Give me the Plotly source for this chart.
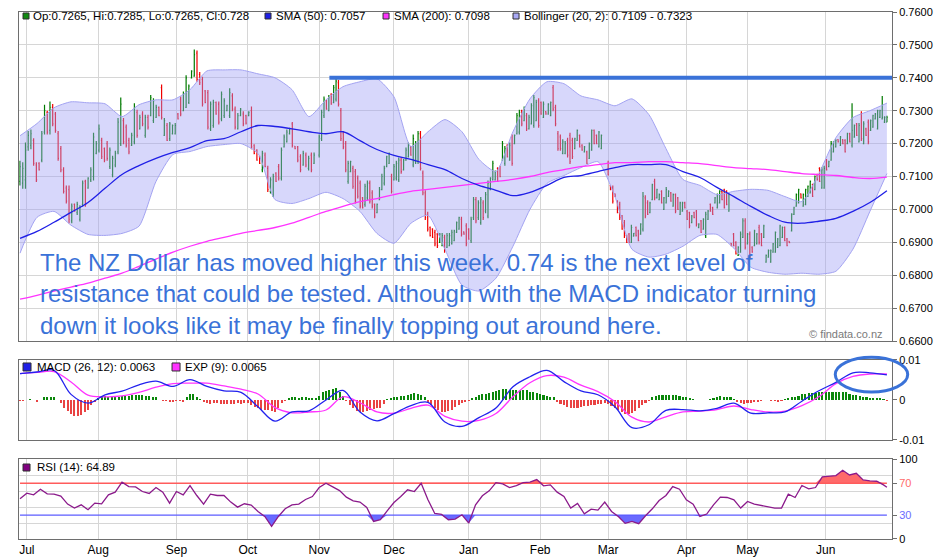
import numpy as np
import plotly.graph_objects as go

# ---------------- data ----------------
months = ["Jul", "Aug", "Sep", "Oct", "Nov", "Dec", "Jan", "Feb", "Mar", "Apr", "May", "Jun"]
month_start_bar = [2, 23, 46, 67, 88, 110, 132, 153, 173, 196, 214, 237]
n_bars = 256

# OHLC in pips (price * 10000), read in three segments of the chart
opens1 = [7085,7080,7090,7190,7195,7210,7135,7140,7150,7235,7295,7240,7310,7290,7230,7185,7120,7065,7060,6965,7015,6990,6970,7015,7085,7065,7090,7100,7170,7180,7210,7185,7200,7130,7105,7135,7175,7200,7270,7250,7210,7195,7205,7295,7245,7290,7225,7280,7285,7270,7280,7310,7370,7225,7255,7215,7230,7230,7290,7335,7300,7310,7325,7400,7405,7475,7410,7395,7360,7355,7245,7255,7325,7320,7275,7285,7300,7285,7345,7305,7245,7285,7290,7285,7285,7300,7195,7180,7160,7120,7165,7125,7055,7045,7110,7130,7095,7190,7205,7230,7260,7192,7190,7160,7135,7165,7125,7165,7140]
highs1 = [7148,7143,7203,7238,7243,7216,7143,7143,7238,7318,7300,7328,7320,7296,7238,7193,7128,7073,7073,7018,7018,7023,7013,7088,7090,7098,7128,7233,7208,7258,7218,7188,7208,7188,7163,7178,7278,7340,7278,7258,7218,7233,7323,7303,7288,7298,7288,7288,7348,7338,7318,7313,7380,7278,7263,7266,7258,7263,7293,7343,7358,7408,7380,7423,7486,7483,7418,7403,7363,7363,7328,7333,7328,7328,7358,7338,7318,7368,7353,7313,7293,7308,7298,7288,7298,7313,7198,7183,7163,7178,7173,7133,7098,7108,7113,7138,7188,7228,7243,7248,7266,7193,7193,7168,7178,7173,7163,7173,7173]
lows1 = [7073,7063,7063,7178,7183,7133,7083,7118,7143,7228,7228,7228,7253,7233,7148,7113,7048,7018,6958,6958,6993,6983,6963,7008,7008,7063,7083,7088,7168,7173,7153,7143,7148,7123,7098,7128,7168,7193,7198,7188,7168,7193,7198,7218,7243,7253,7218,7243,7283,7263,7278,7283,7273,7223,7208,7208,7228,7228,7273,7283,7298,7308,7320,7398,7403,7388,7378,7313,7323,7243,7238,7248,7288,7258,7268,7278,7298,7278,7298,7243,7243,7283,7253,7258,7283,7183,7168,7148,7138,7113,7128,7053,7048,7038,7083,7088,7088,7188,7203,7228,7188,7183,7143,7113,7133,7128,7118,7113,7138]
closes1 = [7130,7125,7180,7225,7230,7140,7090,7120,7230,7300,7235,7310,7260,7240,7155,7120,7055,7025,6970,7010,6995,7015,7005,7080,7015,7095,7120,7220,7200,7245,7160,7150,7155,7180,7155,7170,7265,7320,7205,7195,7175,7225,7310,7225,7280,7260,7280,7250,7340,7330,7310,7285,7280,7270,7210,7260,7255,7255,7275,7290,7350,7400,7375,7420,7470,7395,7385,7320,7325,7250,7320,7325,7290,7265,7350,7330,7315,7355,7305,7250,7285,7305,7260,7262,7295,7190,7170,7150,7140,7170,7130,7060,7090,7100,7085,7095,7180,7220,7235,7245,7195,7185,7150,7120,7170,7135,7155,7120,7165]

opens2 = [7165,7215,7285,7330,7300,7350,7325,7335,7385,7300,7230,7200,7085,7115,7125,7115,7095,7080,7035,7015,7035,7080,7050,7015,6990,7030,7060,7080,7130,7140,7100,7090,7095,7090,7150,7120,7150,7160,7190,7135,7145,7145,7230,7110,7050,6985,6945,6940,6930,6925,6900,6890,6915,6885,6890,6895,6905,6930,6940,6970,6932,6950,6940,6905,6975,7030,6975,6960,7020,6995,6980,7060,7090,7090,7125,7130,7150,7140,7195,7150,7220,7200,7230,7235,7300,7270,7285,7245,7260,7255,7270,7330,7325,7280,7297,7290,7285,7370,7310,7230,7220,7170,7170,7210,7225,7210,7185,7210,7225,7195,7175,7175,7155,7180,7240,7225,7190,7185]
highs2 = [7228,7303,7343,7333,7348,7353,7378,7403,7393,7308,7238,7208,7148,7148,7133,7123,7103,7088,7038,7078,7088,7088,7058,7018,7018,7068,7108,7133,7163,7173,7108,7138,7148,7158,7158,7153,7188,7203,7193,7228,7208,7238,7238,7118,7058,6993,6948,6943,6938,6928,6928,6928,6923,6928,6928,6938,6938,6963,6978,6978,6933,6958,6943,6978,7038,7038,7028,7038,7028,7053,7088,7098,7148,7118,7128,7133,7208,7193,7198,7203,7228,7228,7293,7303,7303,7313,7293,7288,7323,7348,7333,7338,7328,7328,7298,7323,7328,7378,7318,7238,7228,7213,7208,7218,7233,7218,7218,7243,7228,7198,7193,7178,7203,7243,7243,7228,7238,7228]
lows2 = [7158,7208,7278,7303,7298,7318,7323,7328,7313,7208,7183,7113,7078,7113,7063,7018,7033,7003,7003,7008,7028,7018,7003,6973,6988,7028,7058,7073,7128,7138,7048,7088,7088,7083,7108,7118,7148,7158,7163,7128,7138,7138,7118,7043,6968,6933,6918,6913,6888,6883,6898,6888,6868,6883,6888,6893,6903,6928,6938,6918,6923,6888,6908,6898,6968,6958,6968,6953,6968,6988,6973,7058,7088,7088,7083,7098,7148,7133,7158,7148,7133,7198,7228,7228,7253,7268,7238,7243,7258,7248,7268,7248,7288,7278,7288,7288,7283,7298,7253,7178,7178,7168,7168,7158,7138,7153,7183,7208,7188,7178,7173,7138,7153,7178,7198,7198,7188,7183]
closes2 = [7220,7295,7335,7305,7340,7320,7370,7390,7320,7215,7190,7120,7140,7145,7070,7025,7040,7010,7005,7070,7080,7025,7010,6980,7015,7060,7100,7125,7160,7170,7055,7130,7140,7150,7115,7150,7180,7195,7165,7215,7200,7230,7125,7050,6975,6940,6920,6915,6895,6890,6925,6920,6875,6920,6920,6930,6935,6960,6975,6925,6925,6895,6910,6970,7030,6965,7020,7030,6975,7045,7080,7095,7140,7115,7085,7100,7200,7185,7160,7195,7140,7225,7285,7295,7260,7305,7245,7280,7315,7340,7325,7255,7290,7320,7290,7320,7325,7305,7260,7185,7185,7205,7200,7165,7145,7160,7215,7240,7190,7180,7190,7140,7200,7240,7200,7200,7235,7225]

opens3 = [7140,7072,7065,7047,7025,7015,6980,6960,6920,6925,6900,6919,6945,6935,6925,6940,7035,7020,6990,7030,7085,7035,7030,7055,7000,7020,7040,7050,7010,7045,7035,6985,6995,7020,6995,6990,6960,6990,6995,6945,6965,6940,6920,6970,7015,7005,7020,7005,7020,7055,7060,7055,6995,6897,6925,6900,6860,6870,6915,6965,6895,6925,6885,6890,6895,6945,6925,6915,6840,6855,6840,6870,6870,6885,6890,6915,6945,6910,6903,6935,6985,7010,7020,7047,7010,7015,7040,7050,7075,7060,7105,7125,7065,7065,7150,7130,7150,7175,7190,7212,7195,7212,7210,7200,7230,7195,7220,7260,7205,7290,7200,7245,7265,7240,7250,7275,7245,7280,7275,7265,7265]
highs3 = [7148,7073,7073,7048,7028,7023,6983,6968,6923,6928,6953,6928,6948,6938,6958,7053,7043,7028,7023,7078,7093,7063,7048,7058,7038,7068,7058,7053,7048,7048,7038,7023,7023,7023,6998,6993,6983,6993,6998,6958,6968,6973,6993,6998,7018,7008,7038,7048,7058,7058,7063,7058,7048,6898,6928,6903,6888,6933,6973,6973,6928,6933,6888,6938,6928,6953,6928,6953,6863,6878,6878,6898,6933,6913,6953,6948,6948,6913,6903,6988,7008,7048,7063,7048,7048,7063,7073,7088,7078,7103,7108,7128,7128,7133,7153,7148,7208,7208,7213,7213,7223,7213,7213,7233,7233,7323,7258,7263,7263,7298,7268,7248,7273,7273,7288,7293,7303,7303,7345,7283,7285]
lows3 = [7103,7058,7018,7038,6988,6968,6938,6913,6898,6898,6898,6918,6918,6903,6923,6933,6973,6983,6988,7028,7028,7033,7028,7018,6998,7018,7038,7023,7008,6988,6998,6983,6993,7003,6968,6943,6958,6973,6948,6943,6928,6938,6913,6968,6993,6983,7018,7003,7018,7028,7003,7013,6993,6888,6888,6863,6858,6868,6913,6878,6893,6848,6868,6888,6893,6893,6888,6913,6838,6853,6838,6868,6868,6883,6888,6913,6903,6888,6898,6933,6983,7008,7018,7033,7008,7013,7038,7048,7038,7058,7088,7083,7063,7063,7118,7128,7148,7173,7188,7203,7193,7198,7173,7198,7203,7188,7218,7223,7203,7208,7198,7223,7198,7238,7248,7273,7243,7278,7273,7263,7265]
closes3 = [7105,7060,7025,7040,6990,6975,6940,6920,6900,6900,6945,6927,6920,6905,6955,7040,6980,6985,7020,7075,7035,7060,7045,7020,7035,7060,7055,7025,7045,6995,7000,7020,7020,7005,6970,6950,6980,6975,6955,6955,6930,6970,6985,6995,6995,6985,7035,7045,7055,7030,7005,7015,7045,6890,6890,6865,6885,6925,6965,6885,6925,6855,6870,6935,6925,6900,6890,6950,6860,6875,6875,6895,6930,6910,6950,6945,6905,6890,6899,6985,7005,7045,7060,7035,7045,7060,7070,7085,7040,7100,7090,7085,7120,7125,7120,7145,7200,7205,7210,7205,7220,7200,7175,7230,7205,7240,7255,7225,7255,7215,7260,7225,7205,7270,7285,7290,7300,7300,7280,7280,7280]
# bar-number span covered by each of the three segments
segment_bar_spans = [(0, 86.5), (88, 171), (173, 255)]

# indicators, sampled every 5 bars (pips)
sma50_pips = [6912,6933,6961,6991,7021,7064,7106,7133,7155,7173,7188,7209,7215,7236,7255,7252,7245,7236,7230,7236,7209,7182,7164,7152,7136,7121,7094,7073,7058,7042,7052,7073,7097,7103,7115,7127,7136,7136,7136,7115,7097,7067,7039,7009,6982,6961,6958,6964,6973,6994,7021,7057]
sma200_pips = [6727,6739,6752,6764,6776,6791,6806,6827,6849,6870,6888,6903,6915,6927,6936,6945,6958,6976,6994,7009,7024,7033,7045,7055,7061,7067,7073,7079,7085,7091,7100,7112,7121,7130,7136,7142,7142,7145,7145,7142,7139,7133,7127,7124,7121,7115,7109,7106,7103,7097,7094,7098]
bb_upper_pips = [7224,7261,7309,7327,7324,7321,7282,7318,7333,7333,7364,7421,7424,7424,7412,7400,7364,7282,7333,7373,7388,7397,7342,7191,7236,7273,7236,7152,7115,7236,7336,7388,7382,7345,7333,7315,7336,7288,7185,7091,7073,7045,7055,7061,7058,7039,7024,7109,7218,7279,7300,7323]
bb_lower_pips = [6867,6976,6994,6952,6924,6921,6927,6949,7085,7167,7176,7191,7197,7200,7170,7030,7018,7033,7052,7033,6994,6927,6897,6958,6982,6879,6770,6752,6791,6888,7000,7079,7103,7127,7145,7039,6879,6855,6864,6888,6921,6924,6882,6824,6809,6803,6806,6803,6812,6879,6994,7109]
resistance = 0.74
resistance_from_bar = 91

# MACD (x 1e-4), sampled every 5 bars
macd_e4 = [66,70,74,14,-8,13,22,38,47,34,51,34,23,19,-17,-53,-30,-27,0,24,-30,-52,-34,-14,-6,-55,-66,-44,-20,33,58,74,46,23,13,-17,-69,-62,-26,-24,-27,-21,-8,-33,-32,-30,-3,23,44,68,68,63]
signal_e4 = [66,69,71,45,12,8,10,19,32,41,42,42,35,27,15,-19,-32,-30,-25,8,-7,-30,-33,-21,-13,-41,-53,-51,-34,8,43,61,57,37,21,-4,-43,-55,-42,-30,-28,-24,-15,-24,-30,-28,-14,8,41,59,65,65]
# MACD histogram per bar (x 1e-4)
hist_e4 = [-2,-2,0,3,0,-4,0,7,8,8, 7,0,-7,-21,-27,-34,-39,-41,-37,-29,
           -24,-13,-5,4,8,10,8,7,7,8, 11,11,11,12,12,12,12,11,10,8,
           8,0,-2,-3,-5,-6,-3,-3,-4,7, 14,14,7,3,-4,-8,-10,-8,-8,-9,
           -9,-9,-10,-9,-8,-9,-8,-8,-13,-17, -21,-24,-25,-25,-27,-30,-21,-8,-3,4,
           7,8,4,7,7,4,4,5,10,19, 23,26,28,29,21,10,-3,-12,-20,-27,
           -30,-31,-28,-25,-22,-21,-19,-10,3,6, 7,8,10,10,13,14,17,15,13,7,
           -5,-12,-20,-25,-30,-30,-28,-24,-17,-12, -7,-4,-3,4,8,12,14,15,18,20,
           23,25,27,27,25,25,24,24,25,24, 21,19,17,15,13,10,8,7,-4,-10,
           -13,-17,-19,-21,-19,-17,-15,-15,-13,-13, -10,-10,-8,-10,-14,-19,-25,-31,-35,-35,
           -33,-27,-21,-13,-7,-2,7,10,13,13, 13,13,13,13,10,8,7,4,3,0,
           0,0,0,3,5,8,10,8,7,7, 2,-5,-8,-10,-7,-7,-4,-4,-3,0,
           0,-2,-3,-4,-2,3,5,7,8,10, 14,16,17,17,18,19,19,19,19,20,
           21,21,21,19,16,13,13,10,8,7, 5,4,4,4,2,-2]

# RSI (14), sampled every 2 bars plus last bar
rsi_vals = [50.4,57.5,55.4,62.5,56.7,56.3,53.8,43.8,38.8,42.9,
            36.7,45.0,44.2,55.4,58.8,71.3,65.8,65.4,59.6,57.1,
            64.6,58.8,45.0,59.6,55.4,67.1,54.6,43.8,56.3,54.6,
            54.6,46.3,40.0,44.2,42.5,34.6,28.3,15.8,28.3,37.9,
            42.9,43.8,49.6,53.3,64.6,70.0,65.4,60.8,52.5,47.9,
            46.3,39.6,22.1,24.2,35.4,45.8,53.3,61.7,59.6,70.0,
            49.2,32.1,30.8,24.2,25.0,30.4,20.0,
            42.9,54.2,60.4,70.8,69.2,64.6,67.1,70.8,71.3,74.6,
            66.7,67.9,58.8,53.3,38.8,44.6,31.7,37.5,36.3,46.3,
            34.6,28.3,19.6,22.1,19.2,29.2,37.9,48.3,54.6,65.8,
            62.5,49.2,43.8,28.3,31.3,42.9,52.5,52.1,49.2,38.8,
            47.1,43.8,42.1,40.0,38.8,38.8,56.3,52.1,67.1,62.9,
            64.6,77.9,78.8,79.6,86.3,80.4,82.5,74.2,72.9,72.5,
            67.9,64.89]

# ---------------- derived arrays ----------------
P = lambda a: np.array(a, dtype=float) / 10000.0
o = P(opens1 + opens2 + opens3)
h = P(highs1 + highs2 + highs3)
l = P(lows1 + lows2 + lows3)
c = P(closes1 + closes2 + closes3)
x_bars = np.concatenate([np.linspace(a, b, len(seg)) for (a, b), seg in
                         zip(segment_bar_spans, [opens1, opens2, opens3])])
ind_x = np.arange(len(sma50_pips)) * 5
hist_x = np.arange(len(hist_e4))
rsi_x = np.r_[np.arange(0, n_bars, 2), n_bars - 1]
rsi = np.array(rsi_vals)
hist = np.array(hist_e4) / 10000.0

# ---------------- styling ----------------
FONT = "Liberation Sans, Arial, sans-serif"
GRID = "#d6d6d6"
FRAME = "#6e6e6e"
BLUE_TXT = "#3a72d8"
XR = [-0.3, 256.5]

fig = go.Figure()

# Bollinger band
fig.add_trace(go.Scatter(x=ind_x, y=P(bb_upper_pips), mode="lines",
                         line=dict(color="#a3a3f2", width=1, shape="spline", smoothing=0.6),
                         xaxis="x", yaxis="y", hoverinfo="skip"))
fig.add_trace(go.Scatter(x=ind_x, y=P(bb_lower_pips), mode="lines",
                         line=dict(color="#a3a3f2", width=1, shape="spline", smoothing=0.6),
                         fill="tonexty", fillcolor="rgba(160,160,245,0.42)",
                         xaxis="x", yaxis="y", hoverinfo="skip"))
# SMAs
fig.add_trace(go.Scatter(x=ind_x, y=P(sma200_pips), mode="lines",
                         line=dict(color="#ff33ff", width=1.3, shape="spline"),
                         xaxis="x", yaxis="y"))
fig.add_trace(go.Scatter(x=ind_x, y=P(sma50_pips), mode="lines",
                         line=dict(color="#1f1fe6", width=1.3, shape="spline"),
                         xaxis="x", yaxis="y"))
# OHLC bars
fig.add_trace(go.Ohlc(x=x_bars, open=o, high=h, low=l, close=c,
                      increasing=dict(line=dict(color="#007a00", width=1.2)),
                      decreasing=dict(line=dict(color="#f00000", width=1.2)),
                      tickwidth=0.35, xaxis="x", yaxis="y"))

# MACD panel
fig.add_trace(go.Bar(x=hist_x, y=hist, width=0.62,
                     marker=dict(color=np.where(hist > 0, "#0b870b", "#e94343"), line=dict(width=0)),
                     xaxis="x2", yaxis="y2"))
fig.add_trace(go.Scatter(x=ind_x, y=np.array(signal_e4) / 1e4, mode="lines",
                         line=dict(color="#ff33ff", width=1.3, shape="spline"),
                         xaxis="x2", yaxis="y2"))
fig.add_trace(go.Scatter(x=ind_x, y=np.array(macd_e4) / 1e4, mode="lines",
                         line=dict(color="#2222ee", width=1.3, shape="spline"),
                         xaxis="x2", yaxis="y2"))

# RSI panel
fig.add_trace(go.Scatter(x=rsi_x, y=np.full(len(rsi_x), 70.0), mode="lines",
                         line=dict(color="#ff5c5c", width=1.4), xaxis="x3", yaxis="y3"))
fig.add_trace(go.Scatter(x=rsi_x, y=np.maximum(rsi, 70), mode="lines", line=dict(width=0),
                         fill="tonexty", fillcolor="#ff6a6a", xaxis="x3", yaxis="y3"))
fig.add_trace(go.Scatter(x=rsi_x, y=np.full(len(rsi_x), 30.0), mode="lines",
                         line=dict(color="#5c5cff", width=1.4), xaxis="x3", yaxis="y3"))
fig.add_trace(go.Scatter(x=rsi_x, y=np.minimum(rsi, 30), mode="lines", line=dict(width=0),
                         fill="tonexty", fillcolor="#6a6aff", xaxis="x3", yaxis="y3"))
fig.add_trace(go.Scatter(x=rsi_x, y=rsi, mode="lines",
                         line=dict(color="#8b1a8b", width=1.3), xaxis="x3", yaxis="y3"))

xcommon = dict(range=XR, showgrid=True, gridcolor=GRID, gridwidth=1,
               tickmode="array", tickvals=month_start_bar, ticktext=months,
               showline=True, mirror=True, linecolor=FRAME, linewidth=1,
               zeroline=False, ticks="", fixedrange=True, automargin=False)
ycommon = dict(side="right", showline=True, mirror=True, linecolor=FRAME, linewidth=1,
               ticks="outside", ticklen=4, tickcolor=FRAME, zeroline=False, automargin=False,
               fixedrange=True, tickfont=dict(size=11, color="#000000", family=FONT))

fig.update_layout(
    width=940, height=560, autosize=False,
    margin=dict(l=19, r=48, t=12, b=21, autoexpand=False),
    paper_bgcolor="white", plot_bgcolor="white",
    showlegend=False, bargap=0,
    font=dict(family=FONT, size=11, color="#000000"),
    xaxis=dict(**xcommon, anchor="y", showticklabels=False, rangeslider=dict(visible=False)),
    xaxis2=dict(**xcommon, anchor="y2", showticklabels=False, matches="x"),
    xaxis3=dict(**xcommon, anchor="y3", showticklabels=True, matches="x",
                tickfont=dict(size=12, color="#000000", family=FONT)),
    yaxis=dict(**ycommon, domain=[0.3757, 1.0], range=[0.66, 0.76], dtick=0.01,
               tickformat=".4f", showgrid=True, gridcolor=GRID),
    yaxis2=dict(**ycommon, domain=[0.1879, 0.3397], range=[-0.01, 0.01],
                tickmode="array", tickvals=[-0.01, 0, 0.01], ticktext=["-0.01", "0", "0.01"],
                showgrid=False),
    yaxis3=dict(**ycommon, domain=[0.0, 0.1512], range=[0, 100],
                tickmode="array", tickvals=[0, 30, 70, 100],
                ticktext=["0", "<span style='color:#6b6bff'>30</span>",
                          "<span style='color:#ff6b6b'>70</span>", "100"],
                showgrid=False,
                minor=dict(tickmode="array", tickvals=[20, 40, 60, 80], showgrid=True,
                           gridcolor=GRID, ticks="")),
)

shapes = []
annotations = []

# resistance line
shapes.append(dict(type="line", xref="x", yref="y", x0=resistance_from_bar, x1=XR[1],
                   y0=resistance, y1=resistance, line=dict(color=BLUE_TXT, width=4)))
# ellipse around MACD top
shapes.append(dict(type="circle", xref="paper", yref="paper", x0=0.935, x1=1.018,
                   y0=0.279, y1=0.345, line=dict(color=BLUE_TXT, width=3)))


def legend_item(x_sq, y0, y1, color, text, x_txt, y_txt, border="#303030"):
    shapes.append(dict(type="rect", xref="paper", yref="paper", x0=x_sq, x1=x_sq + (y1 - y0) * 527 / 873,
                       y0=y0, y1=y1, fillcolor=color, line=dict(color=border, width=1)))
    annotations.append(dict(xref="paper", yref="paper", x=x_txt, y=y_txt, text=text,
                            showarrow=False, xanchor="left", yanchor="middle",
                            font=dict(size=11.5, family=FONT, color="#000000")))


legend_item(0.0046, 0.9867, 0.9981, "#108a10", "Op:0.7265, Hi:0.7285, Lo:0.7265, Cl:0.728", 0.0138, 0.9924)
legend_item(0.2818, 0.9867, 0.9981, "#1f1fe6", "SMA (50): 0.7057", 0.2921, 0.9924)
legend_item(0.4170, 0.9867, 0.9981, "#ff33ff", "SMA (200): 0.7098", 0.4273, 0.9924)
legend_item(0.5659, 0.9867, 0.9981, "#a9a9f5", "Bollinger (20, 2): 0.7109 - 0.7323", 0.5762, 0.9924)
legend_item(0.0046, 0.3188, 0.3340, "#1f1fe6", "MACD (26, 12): 0.0063", 0.0183, 0.3264)
legend_item(0.1753, 0.3188, 0.3340, "#ff33ff", "EXP (9): 0.0065", 0.1879, 0.3264)
legend_item(0.0046, 0.1290, 0.1423, "#800080", "RSI (14): 64.89", 0.0183, 0.1357)

# commentary text
lines = ["The NZ Dollar has moved higher this week. 0.74 is the next level of",
         "resistance that could be tested. Although with the MACD indicator turning",
         "down it looks like it may be finally topping out around here."]
for txt, yy in zip(lines, [0.5256, 0.4649, 0.4042]):
    annotations.append(dict(xref="paper", yref="paper", x=0.0218, y=yy, text=txt,
                            showarrow=False, xanchor="left", yanchor="middle",
                            font=dict(size=24, family=FONT, color=BLUE_TXT)))

annotations.append(dict(xref="paper", yref="paper", x=0.992, y=0.389, text="© findata.co.nz",
                        showarrow=False, xanchor="right", yanchor="middle",
                        font=dict(size=11, family=FONT, color="#7a7a7a")))

fig.update_layout(shapes=shapes, annotations=annotations)
fig.write_html("out.html", config={"displayModeBar": False, "staticPlot": True},
               post_script="document.body.style.margin='0px';")
